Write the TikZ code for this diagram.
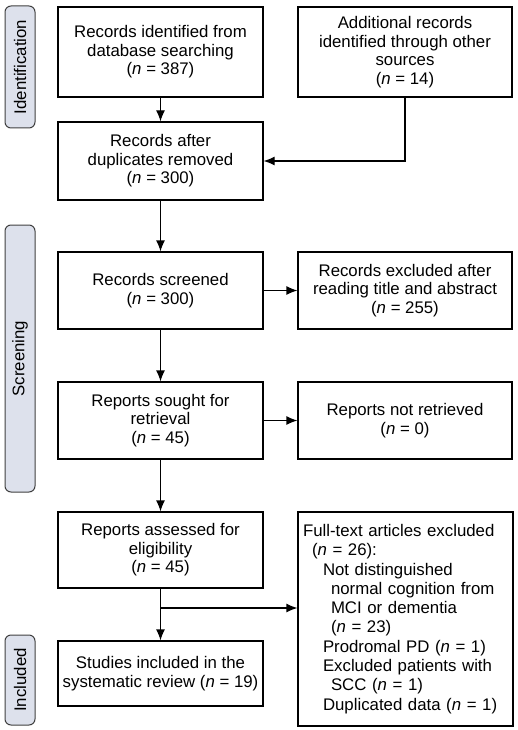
\documentclass[tikz,border=0pt]{standalone}
\usepackage{fontspec}
\setmainfont{Liberation Sans}
\usetikzlibrary{arrows.meta}
\definecolor{phasefill}{HTML}{DDE1EC}
\definecolor{phasedraw}{HTML}{404040}
\tikzset{
  >={Latex[length=11pt,width=9pt]},
  box/.style={draw, line width=1.2pt, rectangle, align=center, inner sep=2pt,
    font=\fontsize{16.8}{18.6}\selectfont},
  phase/.style={draw=phasedraw, fill=phasefill, line width=1pt, rounded corners=6pt,
    rotate=90, minimum height=30pt, font=\fontsize{16.8}{18.6}\selectfont}
}
\newcommand{\nn}[1]{(\textit{n} = #1)}
\begin{document}
\begin{tikzpicture}[x=1pt,y=-1pt]
            \useasboundingbox (0,0) rectangle (517,730);

            % phase labels
            \node[phase, minimum width=122pt] (identification) at (20,67) {Identification};
            \node[phase, minimum width=267pt] (screening) at (20,358.5) {Screening};
            \node[phase, minimum width=90pt] (included) at (20,680) {Included};

            % left column
            \node[box, minimum width=205pt, minimum height=90pt] (database) at (160.5,52) {Records identified from\\database searching\\\nn{387}};
            \node[box, minimum width=205pt, minimum height=78pt] (dups) at (160.5,161) {Records after\\duplicates removed\\\nn{300}};
            \node[box, minimum width=205pt, minimum height=77pt] (screened) at (160.5,290.5) {Records screened\\\nn{300}};
            \node[box, minimum width=205pt, minimum height=77pt] (sought) at (160.5,420.5) {Reports sought for\\retrieval\\\nn{45}};
            \node[box, minimum width=205pt, minimum height=76pt] (assessed) at (160.5,550) {Reports assessed for\\eligibility\\\nn{45}};
            \node[box, minimum width=205pt, minimum height=65pt] (studies) at (160.5,673.5) {Studies included in the\\systematic review \nn{19}};

            % right column
            \node[box, minimum width=214pt, minimum height=90pt] (other) at (405,52) {Additional records\\identified through other\\sources\\\nn{14}};
            \node[box, minimum width=214pt, minimum height=77pt] (excluded) at (405,290.5) {Records excluded after\\reading title and abstract\\\nn{255}};
            \node[box, minimum width=214pt, minimum height=77pt] (notretrieved) at (405,420.5) {Reports not retrieved\\\nn{0}};
            \node[box, minimum width=215pt, minimum height=214pt, align=left, text width=205pt,
                  font=\fontsize{16.8}{19.3}\selectfont] (fulltext) at (405.5,619) {Full-text articles excluded\\
                \hspace*{9pt}\nn{26}:\\
                \hspace*{20pt}Not distinguished\\
                \hspace*{28pt}normal cognition from\\
                \hspace*{28pt}MCI or dementia\\
                \hspace*{28pt}\nn{23}\\
                \hspace*{20pt}Prodromal PD \nn{1}\\
                \hspace*{20pt}Excluded patients with\\
                \hspace*{28pt}SCC \nn{1}\\
                \hspace*{20pt}Duplicated data \nn{1}};

            \coordinate (split) at (160.5,608);

            \draw[->, line width=1.2pt] (database) to (dups); \draw[->, line width=1.2pt] (other.south) |- (dups.east);
            \draw[->, line width=1.2pt] (dups) to (screened); \draw[->, line width=1.2pt] (screened) to (excluded);
            \draw[->, line width=1.2pt] (screened) to (sought); \draw[->, line width=1.2pt] (sought) to (notretrieved);
            \draw[->, line width=1.2pt] (sought) to (assessed); \draw[->, line width=1.2pt] (assessed) to (studies);
            \draw[->, line width=1.2pt] (split) to (split -| fulltext.west);
        \end{tikzpicture}
\end{document}
